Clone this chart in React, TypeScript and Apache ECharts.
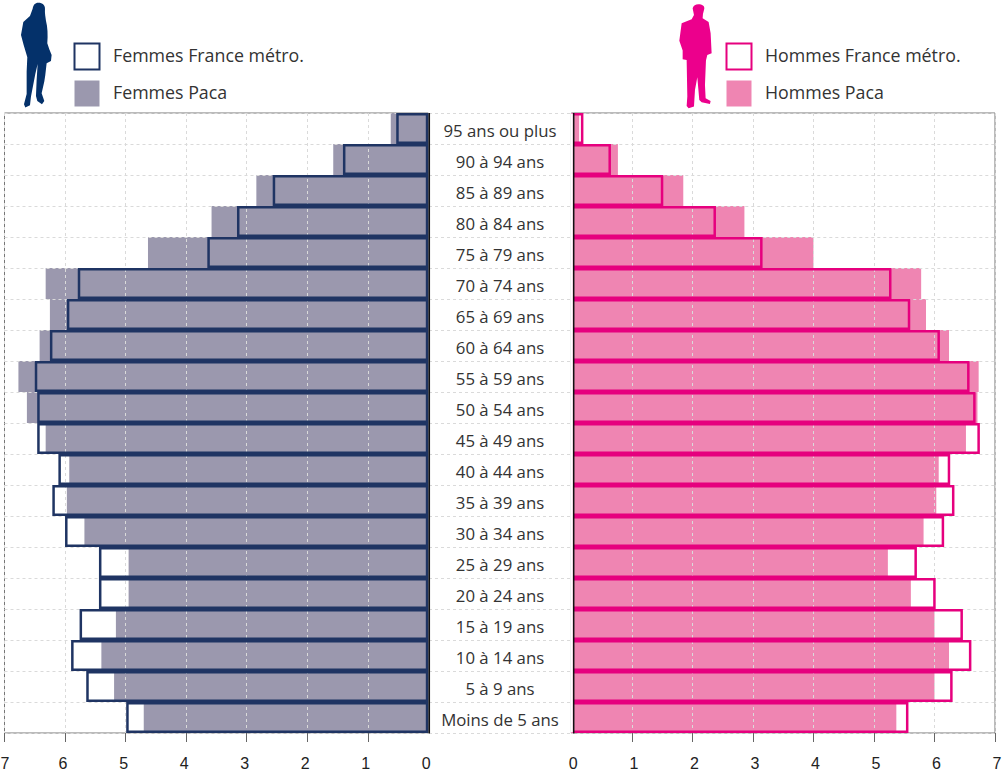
import React, { useEffect, useRef } from "react";
import * as echarts from "echarts";

const categories = ["95 ans ou plus","90 à 94 ans","85 à 89 ans","80 à 84 ans","75 à 79 ans","70 à 74 ans","65 à 69 ans","60 à 64 ans","55 à 59 ans","50 à 54 ans","45 à 49 ans","40 à 44 ans","35 à 39 ans","30 à 34 ans","25 à 29 ans","20 à 24 ans","15 à 19 ans","10 à 14 ans","5 à 9 ans","Moins de 5 ans"];
const femmesPaca = [0.62,1.57,2.84,3.58,4.63,6.32,6.25,6.42,6.77,6.63,6.32,5.93,5.97,5.68,4.95,4.95,5.16,5.40,5.19,4.70];
const femmesFrance = [0.53,1.41,2.57,3.16,3.65,5.79,5.97,6.25,6.50,6.46,6.46,6.11,6.21,6.00,5.44,5.44,5.76,5.90,5.65,4.99];
const hommesPaca = [0.13,0.77,1.85,2.86,4.00,5.78,5.86,6.24,6.73,6.71,6.52,6.07,6.03,5.82,5.23,5.61,6.00,6.24,6.00,5.37];
const hommesFrance = [0.20,0.655,1.52,2.39,3.16,5.29,5.60,6.09,6.58,6.68,6.75,6.26,6.33,6.16,5.71,6.02,6.47,6.61,6.30,5.57];
const tickValues = [1,2,3,4,5,6,7];

const FONT = "'Open Sans', sans-serif";
const NAVY = "#1f3463";
const PINK = "#e6007e";
const GREY = "#9b98ae";
const ROSE = "#ef85b2";
const GRIDC = "#dadada";

const womanPath = "M85 8 C98 8 106 16 105 26 C104 40 107 52 108 62 C113 80 114 105 112 130 L118 148 L125 165 L123 183 L110 190 L106 225 L103 245 L95 280 L103 303 L96 313 L82 303 L78 288 L80 240 L83 192 L76 222 L63 290 L60 316 L46 323 L42 313 L50 282 L50 215 L52 172 L41 135 L33 105 L40 66 L60 48 L68 26 C70 15 75 8 85 8 Z";
const manPath = "M85 13 C97 13 104 18 103 26 L99 42 L98 55 L116 66 L122 100 L125 160 L112 165 L108 182 L105 255 L107 295 L122 303 L120 312 L95 307 L88 300 L82 232 L75 270 L72 320 L56 325 L50 318 L52 290 L50 180 L38 178 L38 152 L28 122 L35 70 L65 58 L72 45 L68 25 C70 17 77 13 85 13 Z";

export default function App() {
  const ref = useRef<HTMLDivElement>(null);
  useEffect(() => {
    document.body.style.margin = "0";
    echarts.graphic.registerShape("woman", echarts.graphic.extendPath(womanPath, {}) as any);
    echarts.graphic.registerShape("man", echarts.graphic.extendPath(manPath, {}) as any);
    const chart = echarts.init(ref.current!, undefined, { renderer: "svg" });
    const tickFont = { fontSize: 16, color: "#222", fontFamily: "'Liberation Sans', Arial, sans-serif" };
    const valueAxis = (gridIndex: number, inverse: boolean) => ({
      type: "value", gridIndex, inverse, min: 0, max: 7, interval: 1, z: 2,
      axisLine: { show: false },
      axisTick: { show: true, length: 9, customValues: tickValues, lineStyle: { color: "#666", width: 1 } },
      axisLabel: {
        show: true, margin: 22, ...tickFont,
        formatter: (v: number) => (inverse ? (v === 7 ? `{s|${v}}` : `{l|${v}}`) : `{r|${v}}`),
        rich: {
          s: { padding: [0, 0, 0, 1], ...tickFont },
          l: { padding: [0, 4, 0, 0], ...tickFont },
          r: { padding: [0, 0, 0, 4], ...tickFont },
        },
      },
      splitLine: { show: true, lineStyle: { color: GRIDC, type: [3, 3], width: 1 } },
    });
    const hiddenX = (gridIndex: number) => ({ type: "value", gridIndex, min: 0, max: 1, show: false, splitLine: { show: false } });
    const catAxis = (gridIndex: number, position: string, label: any, split = true) => ({
      type: "category", gridIndex, data: categories, inverse: true, position, z: 2,
      axisLine: { show: false }, axisTick: { show: false }, axisLabel: label,
      splitLine: { show: split, lineStyle: { color: GRIDC, type: [3, 3], width: 1 } },
    });
    const bar = (name: string, data: number[], idx: number, filled: boolean, color: string) => ({
      name, type: "bar", data, xAxisIndex: idx, yAxisIndex: idx,
      barWidth: "100%", barGap: "-100%", z: filled ? 1 : 3,
      itemStyle: filled ? { color } : { color: "rgba(0,0,0,0)", borderColor: color, borderWidth: 2.5 },
    });
    const legendFont = { color: "#333", fontFamily: FONT, fontSize: 17.8 };
    const legendText = { ...legendFont, rich: { t: { ...legendFont, padding: [0, 0, 3, 8.5] } } };
    const legendBase = {
      top: 42.5, orient: "vertical", icon: "rect", itemWidth: 25, itemHeight: 26, itemGap: 10, padding: 0,
      textStyle: legendText, selectedMode: false, formatter: (n: string) => `{t|${n}}`,
    };
    chart.setOption({
      animation: false,
      tooltip: { show: false },
      legend: [
        { ...legendBase, left: 73.5, data: ["Femmes France métro.", "Femmes Paca"] },
        { ...legendBase, left: 725.5, data: ["Hommes France métro.", "Hommes Paca"] },
      ],
      grid: [
        { left: 4.5, top: 113, width: 423.8, height: 620, show: true, borderColor: "#777", borderWidth: 1, backgroundColor: "transparent", outerBoundsMode: "none" },
        { left: 571.3, top: 113, width: 423.7, height: 620, show: true, borderColor: "#777", borderWidth: 1, backgroundColor: "transparent", outerBoundsMode: "none" },
        { left: 429, top: 113, width: 144, height: 620, outerBoundsMode: "none" },
        { left: 4.5, top: 114.5, width: 423.8, height: 621, outerBoundsMode: "none" },
      ],
      xAxis: [valueAxis(0, true), valueAxis(1, false), hiddenX(2), hiddenX(3)],
      yAxis: [
        catAxis(0, "right", { show: false }),
        catAxis(1, "left", { show: false }),
        catAxis(2, "left", { show: false }),
        catAxis(3, "right", { show: true, align: "center", margin: 71.7, color: "#333", fontFamily: FONT, fontSize: 16.8 }, false),
      ],
      series: [
        bar("Femmes Paca", femmesPaca, 0, true, GREY),
        bar("Femmes France métro.", femmesFrance, 0, false, NAVY),
        bar("Hommes Paca", hommesPaca, 1, true, ROSE),
        bar("Hommes France métro.", hommesFrance, 1, false, PINK),
      ],
      graphic: [
        { type: "rect", z: 20, silent: true, shape: { x: 570.5, y: 113.5, width: 2.4, height: 619 }, style: { fill: "#fff" } },
        { type: "line", z: 21, silent: true, shape: { x1: 429.3, y1: 113, x2: 429.3, y2: 733.5 }, style: { stroke: "#111", lineWidth: 1.5 } },
        { type: "line", z: 21, silent: true, shape: { x1: 573.7, y1: 113, x2: 573.7, y2: 733.5 }, style: { stroke: "#111", lineWidth: 1.5 } },
        { type: "woman", z: 22, silent: true, x: 10, y: 0, scaleX: 1 / 3, scaleY: 1 / 3, style: { fill: "#04316a" } },
        { type: "man", z: 22, silent: true, x: 670, y: 0, scaleX: 1 / 3, scaleY: 1 / 3, style: { fill: "#ec008c" } },
      ],
    });
    return () => chart.dispose();
  }, []);
  return <div ref={ref} style={{ position: "absolute", left: 0, top: 0, width: 1007, height: 771, background: "#fff" }} />;
}
